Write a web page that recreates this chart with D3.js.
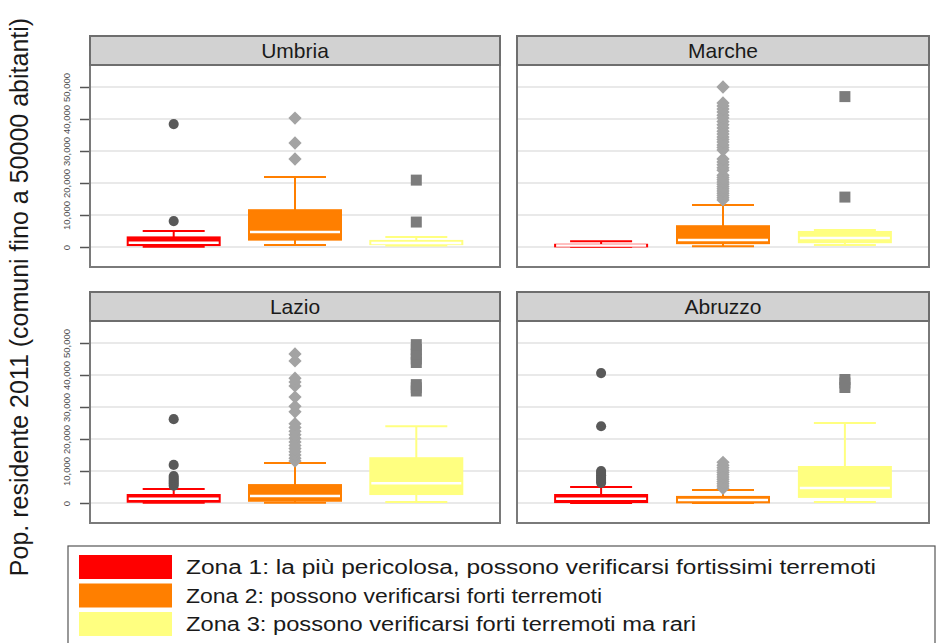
<!DOCTYPE html>
<html>
<head>
<meta charset="utf-8">
<script src="https://cdn.jsdelivr.net/npm/d3@7/dist/d3.min.js"></script>
<style>
  html, body { margin: 0; padding: 0; background: #fff; }
  svg { display: block; font-family: "Liberation Sans", Arial, sans-serif; }
</style>
</head>
<body>
<svg id="chart" width="938" height="643"></svg>
<script>
// Regions (facets) and seismic zones (box groups)
const regions = ["Umbria", "Marche", "Lazio", "Abruzzo"];
const zones = ["Zona 1", "Zona 2", "Zona 3"];
const zoneLabels = [
  "Zona 1: la più pericolosa, possono verificarsi fortissimi terremoti",
  "Zona 2: possono verificarsi forti terremoti",
  "Zona 3: possono verificarsi forti terremoti ma rari"
];
const zoneColors = ["#ff0000", "#ff7f00", "#ffff80"];
const outlierColors = ["#595959", "#a3a3a3", "#7c7c7c"];

// Y-axis ticks (population)
const yTicks = [0, 10000, 20000, 30000, 40000, 50000];

// Box statistics per zone: [lower whisker, Q1, median, Q3, upper whisker]
const umbriaStats = [
  [100, 600, 1300, 3000, 5000],
  [600, 2300, 4700, 11500, 21900],
  [450, 900, 1250, 1900, 3100]
];
const marcheStats = [
  [100, 200, 450, 700, 1800],
  [200, 1200, 2200, 6500, 13100],
  [600, 1500, 2800, 4700, 5300]
];
const lazioStats = [
  [100, 400, 1300, 2500, 4400],
  [100, 700, 2200, 5600, 12500],
  [300, 2800, 6200, 14000, 24000]
];
const abruzzoStats = [
  [0, 300, 1300, 2500, 5000],
  [0, 200, 900, 1900, 4100],
  [300, 1900, 4700, 11250, 25000]
];

// Outlying municipalities per zone
const umbriaOutliers = [
  [8100, 38400],
  [27500, 32500, 40300],
  [7800, 20900]
];
const marcheOutliers = [
  [],
  [14700, 15400, 16100, 16800, 17500, 18200, 18900, 19600, 20300, 21000, 21700, 22400,
   24000, 24800, 25700, 26600, 27500,
   30300, 31100, 31900, 32800, 33600, 34400, 35300, 36200, 37200, 38200, 39200, 40300,
   41200, 42200, 43100, 44100, 45000, 50000],
  [15600, 47000]
];
const lazioOutliers = [
  [5400, 6000, 6600, 7200, 7800, 8400, 11900, 26200],
  [13100, 14000, 15000, 16000, 17000, 18000, 19100, 20200, 21300, 22400, 23600, 24800,
   28500, 30200, 33100, 36600, 37800, 39000, 44400, 46600],
  [35000, 36000, 37000, 43900, 45000, 46500, 48000, 49500]
];
const abruzzoOutliers = [
  [6300, 6900, 7500, 8100, 8700, 9400, 10000, 24000, 40600],
  [4600, 5300, 6000, 6700, 7400, 8100, 8800, 9500, 10200, 11000, 11800, 12700],
  [36100, 37500, 38600]
];

const statsByRegion = [umbriaStats, marcheStats, lazioStats, abruzzoStats];
const outliersByRegion = [umbriaOutliers, marcheOutliers, lazioOutliers, abruzzoOutliers];

const svg = d3.select("#chart");

// Facet layout
const colX = [90, 517];
const panelW = [410, 412];
const rowStripTop = [36, 292];
const stripH = 29;
const plotH = 202;

const y = d3.scaleLinear().domain([-6250, 56875]).range([plotH, 0]);

const symbolTypes = [d3.symbolCircle, d3.symbolSquare, d3.symbolSquare];
const symbolSizes = [80, 88, 121];
const symbolRotate = [0, 45, 0];

regions.forEach((region, i) => {
  const col = i % 2, row = Math.floor(i / 2);
  const x0 = colX[col], w = panelW[col];
  const stripTop = rowStripTop[row];
  const plotTop = stripTop + stripH;

  const g = svg.append("g").attr("transform", `translate(${x0},${plotTop})`);

  // grid lines
  g.selectAll("line.grid").data(yTicks).join("line")
    .attr("class", "grid")
    .attr("x1", 0).attr("x2", w)
    .attr("y1", d => y(d)).attr("y2", d => y(d))
    .attr("stroke", "#e2e2e2").attr("stroke-width", 1.6);

  const x = d3.scalePoint().domain(zones).range([0, w]).padding(0.69);
  const boxW = 92, capW = 62;

  zones.forEach((z, k) => {
    const [lo, q1, med, q3, hi] = statsByRegion[i][k];
    const cx = x(z);
    const col = zoneColors[k];
    const bg = g.append("g");
    // whiskers
    bg.append("line").attr("x1", cx).attr("x2", cx).attr("y1", y(hi)).attr("y2", y(q3))
      .attr("stroke", col).attr("stroke-width", 2);
    bg.append("line").attr("x1", cx).attr("x2", cx).attr("y1", y(q1)).attr("y2", y(lo))
      .attr("stroke", col).attr("stroke-width", 2);
    // caps
    [hi, lo].forEach(v => {
      bg.append("line").attr("x1", cx - capW / 2).attr("x2", cx + capW / 2)
        .attr("y1", y(v)).attr("y2", y(v))
        .attr("stroke", col).attr("stroke-width", 2);
    });
    // box
    bg.append("rect")
      .attr("x", cx - boxW / 2).attr("width", boxW)
      .attr("y", y(q3)).attr("height", Math.max(0, y(q1) - y(q3)))
      .attr("fill", col).attr("stroke", col).attr("stroke-width", 2);
    // median
    bg.append("line").attr("x1", cx - boxW / 2 + 1).attr("x2", cx + boxW / 2 - 1)
      .attr("y1", y(med)).attr("y2", y(med))
      .attr("stroke", "#fff").attr("stroke-width", 2.5);

    // outliers
    const sym = d3.symbol().type(symbolTypes[k]).size(symbolSizes[k]);
    g.selectAll(null).data(outliersByRegion[i][k]).join("path")
      .attr("d", sym)
      .attr("transform", d => `translate(${cx},${y(d)}) rotate(${symbolRotate[k]})`)
      .attr("fill", outlierColors[k]);
  });

  // panel border
  svg.append("rect")
    .attr("x", x0).attr("y", plotTop).attr("width", w).attr("height", plotH)
    .attr("fill", "none").attr("stroke", "#7a7a7a").attr("stroke-width", 2);

  // strip
  svg.append("rect")
    .attr("x", x0).attr("y", stripTop).attr("width", w).attr("height", stripH)
    .attr("fill", "#d2d2d2").attr("stroke", "#6e6e6e").attr("stroke-width", 2);
  svg.append("text")
    .attr("x", x0 + w / 2).attr("y", stripTop + stripH / 2 + 7)
    .attr("text-anchor", "middle")
    .attr("font-size", 21).attr("fill", "#1a1a1a")
    .text(region);

  // y axis on left column
  if (col === 0) {
    const axis = d3.axisLeft(y).tickValues(yTicks).tickSize(9).tickPadding(3)
      .tickFormat(d3.format(","));
    const ag = svg.append("g").attr("transform", `translate(${x0 - 1},${plotTop})`).call(axis);
    ag.select(".domain").remove();
    ag.selectAll(".tick line").attr("stroke", "#555").attr("stroke-width", 1.5);
    ag.selectAll(".tick text")
      .attr("font-size", 9.5).attr("fill", "#4d4d4d")
      .attr("text-anchor", "middle")
      .attr("transform", "rotate(-90)")
      .attr("x", 0).attr("y", -22).attr("dy", "0.35em");
  }
});

// y axis title
svg.append("text")
  .attr("transform", "translate(28,297) rotate(-90)")
  .attr("text-anchor", "middle")
  .attr("font-size", 25).attr("fill", "#1a1a1a")
  .text("Pop. residente 2011 (comuni fino a 50000 abitanti)");

// legend
const lg = svg.append("g");
lg.append("rect").attr("x", 68).attr("y", 546).attr("width", 867).attr("height", 110)
  .attr("fill", "#fff").attr("stroke", "#555").attr("stroke-width", 1.2);
const legendWidths = [690, 416, 510];
zoneLabels.forEach((lab, k) => {
  const yy = 555 + k * 28.5;
  lg.append("rect").attr("x", 79).attr("y", yy).attr("width", 93).attr("height", 24)
    .attr("fill", zoneColors[k]);
  lg.append("text").attr("x", 186).attr("y", yy + 19)
    .attr("font-size", 20).attr("fill", "#1a1a1a")
    .attr("textLength", legendWidths[k]).attr("lengthAdjust", "spacingAndGlyphs")
    .text(lab);
});
</script>
</body>
</html>
